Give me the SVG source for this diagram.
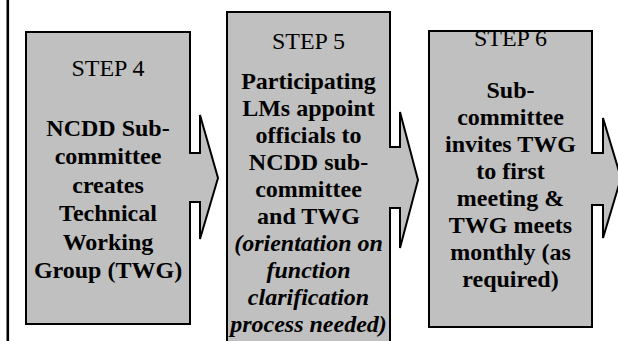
<svg xmlns="http://www.w3.org/2000/svg" width="618" height="341" viewBox="0 0 618 341">
  <style>
    .callout { fill: #c0c0c0; stroke: #000; stroke-width: 2; stroke-linejoin: miter; }
    .step { font-family: "Liberation Serif", "Times New Roman", serif; font-size: 24px; text-anchor: middle; fill: #000; }
    .body { font-family: "Liberation Serif", "Times New Roman", serif; font-size: 24px; font-weight: bold; text-anchor: middle; fill: #000; }
    .note { font-style: italic; }
  </style>
  <rect width="618" height="341" fill="#fff"/>
  <!-- left margin rule -->
  <rect x="6.5" y="0" width="2.6" height="341" fill="#000"/>

  <g id="step4">
    <path class="callout" d="M26 32 H190 V153 H200 V115 L218 178 L200 239 V202 H190 V324 H26 Z"/>
    <text class="step" x="108" y="76">STEP 4</text>
    <text class="body" x="108" y="135.5">NCDD Sub-</text>
    <text class="body" x="108" y="164">committee</text>
    <text class="body" x="108" y="192.5">creates</text>
    <text class="body" x="108" y="221">Technical</text>
    <text class="body" x="108" y="249.5">Working</text>
    <text class="body" x="108" y="278">Group (TWG)</text>
  </g>

  <g id="step5">
    <path class="callout" d="M227 12 H390 V147 H400 V112 L418 180 L400 248 V208 H390 V345 H227 Z"/>
    <text class="step" x="308.5" y="49">STEP 5</text>
    <text class="body" x="308.5" y="89">Participating</text>
    <text class="body" x="308.5" y="116">LMs appoint</text>
    <text class="body" x="308.5" y="143">officials to</text>
    <text class="body" x="308.5" y="170">NCDD sub-</text>
    <text class="body" x="308.5" y="197">committee</text>
    <text class="body" x="308.5" y="224">and TWG</text>
    <text class="body note" x="308.5" y="251">(orientation on</text>
    <text class="body note" x="308.5" y="278">function</text>
    <text class="body note" x="308.5" y="305">clarification</text>
    <text class="body note" x="308.5" y="332">process needed)</text>
  </g>

  <g id="step6">
    <path class="callout" d="M429 31 H592 V153 H603 V118 L621 178 L603 238 V205 H592 V327 H429 Z"/>
    <text class="step" x="510.5" y="46">STEP 6</text>
    <text class="body" x="510.5" y="98">Sub-</text>
    <text class="body" x="510.5" y="125">committee</text>
    <text class="body" x="510.5" y="152">invites TWG</text>
    <text class="body" x="510.5" y="179">to first</text>
    <text class="body" x="510.5" y="206">meeting &amp;</text>
    <text class="body" x="510.5" y="233">TWG meets</text>
    <text class="body" x="510.5" y="260">monthly (as</text>
    <text class="body" x="510.5" y="287">required)</text>
  </g>

  <!-- the flow is carried by the arrow callouts themselves -->
  <g id="connectors"/>
</svg>
